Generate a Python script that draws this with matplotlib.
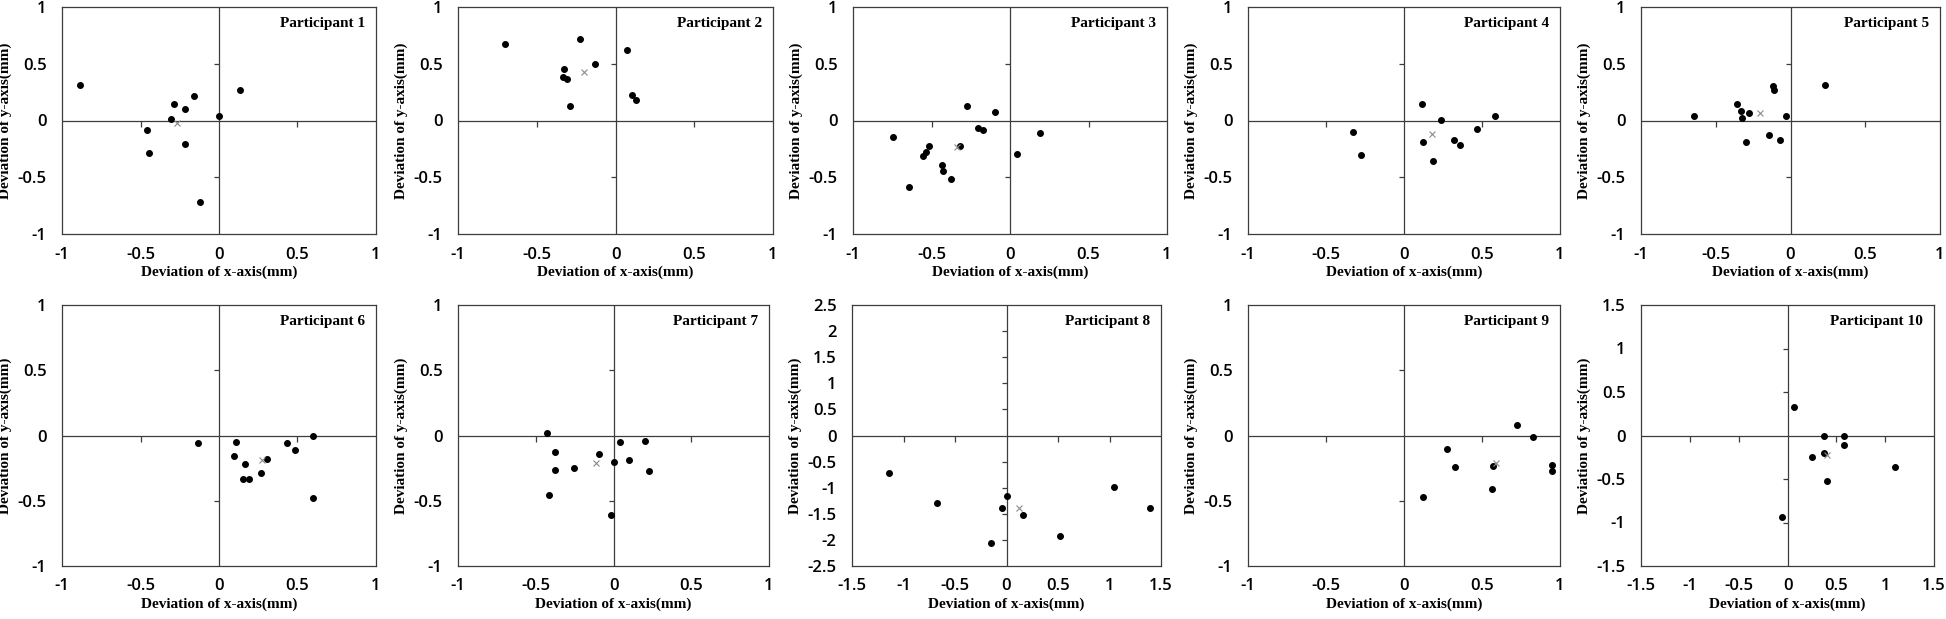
import numpy as np
import matplotlib
matplotlib.use("Agg")
import matplotlib.pyplot as plt
from matplotlib.ticker import FuncFormatter, MultipleLocator
from matplotlib.markers import TICKDOWN, TICKLEFT

plt.rcParams['axes.unicode_minus'] = False

# data (mm)
p1_x = [-0.887, -0.287, -0.162, -0.217, -0.308, 0.0, 0.133, -0.459, -0.444, -0.219, -0.12]
p1_y = [0.315, 0.141, 0.22, 0.1, 0.009, 0.038, 0.265, -0.088, -0.285, -0.203, -0.72]
p2_x = [-0.7, -0.225, -0.328, -0.333, -0.307, -0.128, -0.286, 0.075, 0.105, 0.128]
p2_y = [0.674, 0.718, 0.456, 0.382, 0.365, 0.5, 0.132, 0.618, 0.221, 0.185]
p3_x = [-0.745, -0.645, -0.554, -0.535, -0.516, -0.433, -0.429, -0.376, -0.321, -0.272,
        -0.206, -0.172, -0.093, 0.042, 0.189]
p3_y = [-0.147, -0.582, -0.315, -0.279, -0.221, -0.391, -0.444, -0.515, -0.221, 0.129,
        -0.065, -0.088, 0.079, -0.291, -0.106]
p4_x = [-0.33, -0.278, 0.113, 0.12, 0.188, 0.238, 0.321, 0.362, 0.469, 0.582]
p4_y = [-0.103, -0.303, 0.141, -0.191, -0.359, 0.006, -0.171, -0.215, -0.074, 0.038]
p5_x = [-0.643, -0.355, -0.333, -0.326, -0.275, -0.295, -0.145, -0.114, -0.109, -0.071, -0.031, 0.234]
p5_y = [0.041, 0.144, 0.082, 0.018, 0.062, -0.188, -0.129, 0.303, 0.265, -0.171, 0.038, 0.315]
p6_x = [-0.136, 0.106, 0.098, 0.168, 0.155, 0.193, 0.265, 0.308, 0.435, 0.484, 0.596, 0.596]
p6_y = [-0.056, -0.049, -0.154, -0.221, -0.331, -0.333, -0.285, -0.177, -0.059, -0.113, -0.005, -0.482]
p7_x = [-0.427, -0.375, -0.375, -0.412, -0.251, -0.091, 0.001, 0.042, 0.097, 0.202, 0.228, -0.018]
p7_y = [0.018, -0.123, -0.262, -0.456, -0.246, -0.138, -0.2, -0.051, -0.19, -0.041, -0.274, -0.608]
p8_x = [-1.139, -0.674, -0.148, -0.039, 0.0, 0.158, 0.523, 1.042, 1.394]
p8_y = [-0.723, -1.29, -2.065, -1.381, -1.168, -1.516, -1.916, -0.994, -1.387]
p9_x = [0.12, 0.274, 0.329, 0.564, 0.573, 0.726, 0.827, 0.951, 0.947]
p9_y = [-0.469, -0.105, -0.241, -0.413, -0.233, 0.077, -0.015, -0.223, -0.272]
p10_x = [0.067, -0.06, 0.251, 0.374, 0.374, 0.408, 0.579, 0.575, 1.097]
p10_y = [0.331, -0.942, -0.246, 0.0, -0.2, -0.527, -0.004, -0.104, -0.358]

xs = [p1_x, p2_x, p3_x, p4_x, p5_x, p6_x, p7_x, p8_x, p9_x, p10_x]
ys = [p1_y, p2_y, p3_y, p4_y, p5_y, p6_y, p7_y, p8_y, p9_y, p10_y]
x_lims = [1, 1, 1, 1, 1, 1, 1, 1.5, 1, 1.5]
y_lims = [1, 1, 1, 1, 1, 1, 1, 2.5, 1, 1.5]
titles = ["Participant %d" % (i + 1) for i in range(10)]

W, H = 1946, 619
# axes boxes in pixels: left, top, right, bottom
boxes = [(62, 7, 376, 234), (458, 7, 773, 234), (853, 7, 1167, 234), (1248, 7, 1560, 234),
         (1641, 7, 1940, 234),
         (62, 305, 376, 566), (458, 305, 769, 566), (852, 305, 1161, 566), (1248, 305, 1560, 566),
         (1641, 305, 1934, 566)]

fig = plt.figure(figsize=(W / 100, H / 100), dpi=100)
line_c = "#3c3c3c"
lab_font = {"family": "Liberation Serif", "size": 11, "weight": "bold"}
fmt = FuncFormatter(lambda v, p: "%g" % (0 if abs(v) < 1e-9 else v))

for i in range(10):
    l, t, r, b = boxes[i]
    ax = fig.add_axes([l / W, 1 - b / H, (r - l) / W, (b - t) / H])
    xl, yl = x_lims[i], y_lims[i]
    ax.set_xlim(-xl, xl)
    ax.set_ylim(-yl, yl)
    ax.xaxis.set_major_locator(MultipleLocator(0.5))
    ax.yaxis.set_major_locator(MultipleLocator(0.5))
    ax.xaxis.set_major_formatter(fmt)
    ax.yaxis.set_major_formatter(fmt)
    ax.tick_params(length=0, pad=9)
    ax.tick_params(axis="y", pad=11)
    for lab in ax.get_xticklabels() + ax.get_yticklabels():
        lab.set_fontfamily("Open Sans")
        lab.set_fontsize(12)
        lab.set_fontweight("semibold")
    for s in ax.spines.values():
        s.set_color(line_c)
        s.set_linewidth(0.9)

    # crossing zero lines with their tick marks
    ax.axhline(0, color=line_c, lw=0.9, zorder=1)
    ax.axvline(0, color=line_c, lw=0.9, zorder=1)
    xt = [v for v in np.arange(-xl, xl + 0.01, 0.5) if abs(v) > 1e-9 and abs(abs(v) - xl) > 1e-9]
    yt = [v for v in np.arange(-yl, yl + 0.01, 0.5) if abs(v) > 1e-9 and abs(abs(v) - yl) > 1e-9]
    ax.plot(xt, [0] * len(xt), ls="none", marker=TICKDOWN, ms=4.5, mew=0.9, color=line_c, zorder=1)
    ax.plot([0] * len(yt), yt, ls="none", marker=TICKLEFT, ms=3.5, mew=0.9, color=line_c, zorder=1)

    ax.plot(xs[i], ys[i], ls="none", marker="o", ms=4, color="black", zorder=3)
    ax.plot(np.mean(xs[i]), np.mean(ys[i]), ls="none", marker="x", ms=4.5, mew=0.8,
            color="#8a8a8a", zorder=4)

    ax.set_xlabel("Deviation of x-axis(mm)", fontdict=lab_font, labelpad=2)
    ax.set_ylabel("Deviation of y-axis(mm)", fontdict=lab_font, labelpad=4)
    ax.annotate(titles[i], xy=(1, 1), xycoords="axes fraction", xytext=(-8, -12),
                textcoords="offset points", ha="right", va="center",
                fontfamily="Liberation Serif", fontsize=11, fontweight="bold")

fig.savefig("out.png", dpi=100)
